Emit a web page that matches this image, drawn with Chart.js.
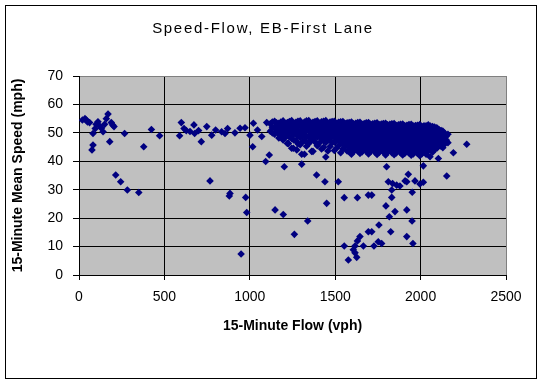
<!DOCTYPE html>
<html>
<head>
<meta charset="utf-8">
<title>Speed-Flow, EB-First Lane</title>
<script src="https://cdn.jsdelivr.net/npm/chart.js@4.4.1/dist/chart.umd.min.js"></script>
<style>
  html, body { margin: 0; padding: 0; background: #fff; }
  #wrap { position: relative; width: 542px; height: 387px; }
</style>
</head>
<body>
<div id="wrap"><canvas id="speedFlow" width="542" height="387"></canvas></div>
<script>
// Chart text
const chartTitle = 'Speed-Flow, EB-First Lane';
const xTitle = '15-Minute Flow (vph)';
const yTitle = '15-Minute Mean Speed (mph)';

// Axis ticks
const xTicks = [0, 500, 1000, 1500, 2000, 2500];
const yTicks = [0, 10, 20, 30, 40, 50, 60, 70];

// [flow vph, speed mph]
// light traffic, flow below ~1100
const lightFlow = [
  [20,54.5],[35,55],[43,54.5],[50,53.8],[62,53.6],[76,44],[82,45.7],[82,49.8],[95,51.5],
  [100,53],[111,53.9],[120,52.5],[131,51.6],[141,50.4],[150,53],[160,55],[170,56.6],
  [180,46.9],[189,53.6],[197,52.8],[205,52.2],[215,35.2],[244,32.8],[267,49.8],[283,29.9],
  [350,29],[379,45.1],[424,51.2],[472,49],[589,49],[599,53.6],[615,51.5],[628,50.8],
  [650,50.5],[673,52.8],[677,49.8],[700,50.8],[716,46.9],[748,52.2],[767,33.1],[777,49.2],
  [800,51],[835,50.4],[855,49.8],[870,51.5],[880,27.8],[884,28.7],[913,50],[943,51.6],
  [949,7.4],[972,51.8],[976,27.3],[982,22],[1001,49.2],[1017,45.1],[1021,53.4],[1045,51],
  [1070,48.7],[1093,39.9],[1099,53.6]
];

// main uncongested band, 1100-2160 vph
const mainBand = [
  [1120,53.2],[1120,50.6],
  [1145,54.1],[1145,51.8],[1145,49.5],
  [1170,53.4],[1170,51],[1170,48.2],
  [1195,54.2],[1195,52.3],[1195,50.1],[1195,47.5],
  [1220,53.6],[1220,51.4],[1220,49.2],[1220,46.3],
  [1245,54.3],[1245,52.5],[1245,50.4],[1245,48],[1245,44.6],
  [1270,53.7],[1270,51.6],[1270,49.6],[1270,47.2],
  [1295,54.2],[1295,52.4],[1295,50.3],[1295,48.4],[1295,45.8],
  [1320,53.8],[1320,51.7],[1320,49.5],[1320,47.3],[1320,42.5],
  [1345,54.3],[1345,52.6],[1345,50.6],[1345,48.6],[1345,46.3],
  [1370,53.7],[1370,51.9],[1370,49.8],[1370,47.6],[1370,43.5],
  [1395,54.2],[1395,52.4],[1395,50.5],[1395,48.5],[1395,45.5],
  [1420,53.9],[1420,51.8],[1420,49.6],[1420,47.8],[1420,44.3],
  [1445,54.3],[1445,52.5],[1445,50.7],[1445,48.8],[1445,46.6],[1445,41.5],
  [1470,53.8],[1470,51.9],[1470,50],[1470,48],[1470,45.2],
  [1495,54.1],[1495,52.3],[1495,50.4],[1495,48.5],[1495,46.7],[1495,43.8],
  [1520,53.7],[1520,51.8],[1520,49.8],[1520,47.9],[1520,45.5],
  [1545,54],[1545,52.2],[1545,50.3],[1545,48.3],[1545,46.2],[1545,44.3],
  [1570,53.5],[1570,51.7],[1570,49.8],[1570,47.9],[1570,45.9],[1570,43.6],
  [1595,53.8],[1595,52],[1595,50.2],[1595,48.4],[1595,46.5],[1595,44.6],[1595,42.5],
  [1620,53.4],[1620,51.6],[1620,49.8],[1620,47.9],[1620,46.1],[1620,44.2],
  [1645,53.7],[1645,51.9],[1645,50.1],[1645,48.3],[1645,46.5],[1645,44.7],[1645,42.8],
  [1670,53.3],[1670,51.5],[1670,49.7],[1670,47.9],[1670,46],[1670,44.1],
  [1695,53.6],[1695,51.8],[1695,50],[1695,48.2],[1695,46.4],[1695,44.5],[1695,42.6],
  [1720,53.2],[1720,51.4],[1720,49.6],[1720,47.8],[1720,46],[1720,44.2],
  [1745,53.5],[1745,51.7],[1745,49.9],[1745,48.1],[1745,46.3],[1745,44.4],[1745,42.4],
  [1770,53.1],[1770,51.3],[1770,49.5],[1770,47.7],[1770,45.9],[1770,44],
  [1795,53.4],[1795,51.6],[1795,49.8],[1795,48],[1795,46.2],[1795,44.3],[1795,42.2],
  [1820,53],[1820,51.2],[1820,49.4],[1820,47.6],[1820,45.8],[1820,43.9],
  [1845,53.3],[1845,51.5],[1845,49.7],[1845,47.9],[1845,46.1],[1845,44.2],[1845,42.3],
  [1870,52.8],[1870,51],[1870,49.2],[1870,47.4],[1870,45.6],[1870,43.8],
  [1895,53.1],[1895,51.3],[1895,49.5],[1895,47.7],[1895,45.9],[1895,44],[1895,42.2],
  [1920,52.7],[1920,50.9],[1920,49.1],[1920,47.3],[1920,45.5],[1920,43.6],
  [1945,53],[1945,51.2],[1945,49.4],[1945,47.6],[1945,45.8],[1945,43.9],[1945,42.1],
  [1970,52.6],[1970,50.8],[1970,49],[1970,47.2],[1970,45.4],[1970,43.5],
  [1995,52.9],[1995,51.1],[1995,49.3],[1995,47.5],[1995,45.7],[1995,43.8],[1995,42],
  [2020,52.5],[2020,50.7],[2020,48.9],[2020,47.1],[2020,45.3],[2020,43.4],
  [2045,52.8],[2045,51],[2045,49.2],[2045,47.4],[2045,45.6],[2045,43.7],
  [2070,52.2],[2070,50.4],[2070,48.6],[2070,46.8],[2070,45],[2070,43.2],
  [2095,51.8],[2095,50],[2095,48.2],[2095,46.4],[2095,44.6],
  [2120,50.8],[2120,49],[2120,47.2],[2120,45.3],
  [2140,49.9],[2140,48],[2140,46],
  [2160,49.5],[2160,46.5]
];

// in-between observations of the same band
const mainBandFill = [
  [1132,53.8],[1132,52],[1132,50],
  [1157,53.5],[1157,52.5],[1157,50.5],
  [1182,53.8],[1182,52.2],[1182,50.6],[1182,49],
  [1207,53.3],[1207,52.8],[1207,51],[1207,49.9],[1207,48.4],
  [1232,54],[1232,52.7],[1232,50.8],[1232,48.6],
  [1257,53.3],[1257,51.5],[1257,49.5],[1257,47.5],
  [1282,54.1],[1282,52.6],[1282,50.8],[1282,48.8],[1282,46.2],
  [1307,53.2],[1307,51.1],[1307,49],[1307,46.8],
  [1332,54.2],[1332,52.8],[1332,50.9],[1332,48.5],[1332,45.3],
  [1357,53.4],[1357,51.3],[1357,49.3],[1357,47.3],
  [1382,54],[1382,52.8],[1382,51],[1382,49],[1382,46.8],
  [1407,53.2],[1407,51.2],[1407,49.2],[1407,46.4],
  [1432,54.1],[1432,52.7],[1432,50.9],[1432,49],[1432,47.3],[1432,44.9],
  [1457,53.3],[1457,51.4],[1457,49.4],[1457,47.4],[1457,43.6],
  [1482,54],[1482,52.7],[1482,50.9],[1482,49],[1482,46.6],
  [1507,53.2],[1507,51.2],[1507,49.3],[1507,47.2],[1507,44.6],
  [1532,53.9],[1532,52.8],[1532,50.8],[1532,48.8],[1532,46.8],[1532,43],
  [1557,53.3],[1557,51.3],[1557,49.2],[1557,47.3],[1557,45.2],
  [1582,53.6],[1582,52.6],[1582,50.8],[1582,48.9],[1582,47],[1582,45.3],[1582,43.5],
  [1607,53.2],[1607,51.1],[1607,49.2],[1607,47.3],[1607,45.4],[1607,43.4],
  [1632,53.6],[1632,52.6],[1632,50.8],[1632,49],[1632,47.2],[1632,45.3],[1632,43.6],
  [1657,53],[1657,51],[1657,49.2],[1657,47.3],[1657,45.5],[1657,43.3],
  [1682,53.5],[1682,52.5],[1682,50.8],[1682,48.9],[1682,47.1],[1682,45.2],[1682,43.6],
  [1707,53],[1707,51],[1707,49.1],[1707,47.2],[1707,45.2],[1707,43.4],
  [1732,53.4],[1732,52.4],[1732,50.6],[1732,48.8],[1732,47],[1732,45.2],[1732,43.3],
  [1757,52.9],[1757,50.8],[1757,49],[1757,47.1],[1757,45.3],[1757,43.1],
  [1782,53.3],[1782,52.2],[1782,50.5],[1782,48.7],[1782,46.9],[1782,45.1],[1782,43.3],
  [1807,52.8],[1807,50.6],[1807,48.8],[1807,47],[1807,45.2],[1807,43.2],
  [1832,53.2],[1832,52.1],[1832,50.4],[1832,48.6],[1832,46.8],[1832,45],[1832,43],
  [1857,52.6],[1857,50.4],[1857,48.7],[1857,46.8],[1857,45],[1857,42.9],
  [1882,53],[1882,52],[1882,50.2],[1882,48.4],[1882,46.6],[1882,44.8],[1882,43],
  [1907,52.5],[1907,50.3],[1907,48.5],[1907,46.7],[1907,44.8],[1907,42.8],
  [1932,52.9],[1932,51.8],[1932,50],[1932,48.3],[1932,46.5],[1932,44.7],[1932,42.9],
  [1957,52.4],[1957,50.2],[1957,48.4],[1957,46.6],[1957,44.6],[1957,42.6],
  [1982,52.7],[1982,51.6],[1982,49.9],[1982,48.1],[1982,46.3],[1982,44.6],[1982,42.8],
  [2007,52.2],[2007,50],[2007,48.3],[2007,46.4],[2007,44.5],[2007,42.6],
  [2032,52.5],[2032,51.5],[2032,49.7],[2032,47.9],[2032,46.2],[2032,44.4],[2032,42.5],
  [2057,52.4],[2057,50.3],[2057,48.4],[2057,46.6],[2057,44.6],
  [2082,52],[2082,51.1],[2082,49.3],[2082,47.5],[2082,45.8],[2082,44.2],
  [2107,51.2],[2107,49.5],[2107,47.6],[2107,45.8],
  [2130,50.6],[2130,48.5],[2130,46.6],[2130,44.8],
  [2150,48.8],[2150,47.5]
];

// scattered / congested observations
const congested = [
  [1114,42.2],[1148,22.9],[1167,49.8],[1196,21.3],[1202,38.1],[1226,46.3],[1255,44.6],
  [1261,14.3],[1275,44],[1304,39],[1304,42.5],[1339,19],[1343,46.3],[1362,43.5],
  [1391,35.2],[1440,32.8],[1450,25.2],[1518,32.8],[1553,27.2],[1553,10.2],[1577,5.3],
  [1606,8.9],[1616,10.2],[1616,7.8],[1626,6.2],[1630,27.2],[1630,12],[1645,13.5],
  [1665,10.2],[1694,28.1],[1714,28.1],[1694,15.2],[1714,15.2],[1727,10.2],[1752,11.7],
  [1772,11.1],[1756,17.6],[1797,24.3],[1801,38.1],[1811,32.8],[1817,20.5],[1825,15.2],
  [1831,29.9],[1831,27.3],[1836,32.2],[1850,22.3],[1860,31.6],[1879,31.3],[1909,33.1],
  [1919,32.8],[1919,22.9],[1919,13.5],[1928,35.4],[1950,19],[1951,29.1],[1955,11.1],
  [1967,33.1],[1996,32],[2016,32.6],[2016,38.4],[2055,41.6],[2104,41],[2153,34.8],
  [2192,43],[2270,46],[2149,49.2],[2153,47]
];

const allPoints = [...lightFlow, ...mainBand, ...mainBandFill, ...congested]
  .map(p => ({ x: p[0], y: p[1] }));

const FONT = 'Arial, "Liberation Sans", sans-serif';
Chart.defaults.color = '#000';
Chart.defaults.font.family = FONT;

// gray plot area, outer frame and letter-spaced title
const excelLook = {
  id: 'excelLook',
  beforeDraw(chart) {
    const { ctx, chartArea: a } = chart;
    ctx.save();
    ctx.fillStyle = '#c0c0c0';
    ctx.fillRect(a.left, a.top, a.right - a.left, a.bottom - a.top);
    ctx.restore();
  },
  afterDraw(chart) {
    const ctx = chart.ctx;
    ctx.save();
    ctx.strokeStyle = '#000';
    ctx.lineWidth = 1;
    ctx.strokeRect(5.5, 5.5, 531, 373);
    ctx.fillStyle = '#000';
    ctx.font = '15px ' + FONT;
    ctx.letterSpacing = '1.7px';
    ctx.textAlign = 'center';
    ctx.textBaseline = 'middle';
    ctx.fillText(chartTitle, 263, 29);
    ctx.restore();
  }
};

new Chart(document.getElementById('speedFlow'), {
  type: 'scatter',
  data: {
    datasets: [{
      label: 'Speed-Flow',
      data: allPoints,
      pointStyle: 'rectRot',
      pointRadius: 3.8,
      pointHoverRadius: 3.8,
      borderWidth: 0,
      backgroundColor: '#000080',
      borderColor: '#000080'
    }]
  },
  options: {
    responsive: false,
    animation: false,
    devicePixelRatio: 1,
    layout: { padding: { top: 76, right: 36, left: 0, bottom: 0 } },
    plugins: {
      legend: { display: false },
      tooltip: { enabled: false }
    },
    scales: {
      x: {
        type: 'linear',
        min: 0,
        max: 2500,
        afterBuildTicks: s => { s.ticks = xTicks.map(v => ({ value: v })); },
        afterFit: s => { s.height = 112; },
        grid: {
          color: c => c.tick && c.tick.value === 2500 ? '#808080' : '#000',
          tickColor: '#000',
          tickLength: 5,
          lineWidth: 1
        },
        border: { color: '#000', width: 1 },
        ticks: {
          font: { size: 14 },
          padding: 9,
          maxRotation: 0,
          callback: v => String(v)
        },
        title: {
          display: true,
          text: xTitle,
          font: { size: 14, weight: 'bold' },
          padding: { top: 0, bottom: 52 }
        }
      },
      y: {
        min: 0,
        max: 70,
        afterBuildTicks: s => { s.ticks = yTicks.map(v => ({ value: v })); },
        afterFit: s => { s.width = 79; },
        grid: {
          color: c => c.tick && c.tick.value === 70 ? '#808080' : '#000',
          tickColor: '#000',
          tickLength: 6,
          lineWidth: 1
        },
        border: { color: '#000', width: 1 },
        ticks: { font: { size: 14 }, padding: 10, callback: v => String(v) },
        title: {
          display: true,
          text: yTitle,
          font: { size: 14, weight: 'bold' },
          padding: { top: 10, bottom: 0 }
        }
      }
    }
  },
  plugins: [excelLook]
});
</script>
</body>
</html>
